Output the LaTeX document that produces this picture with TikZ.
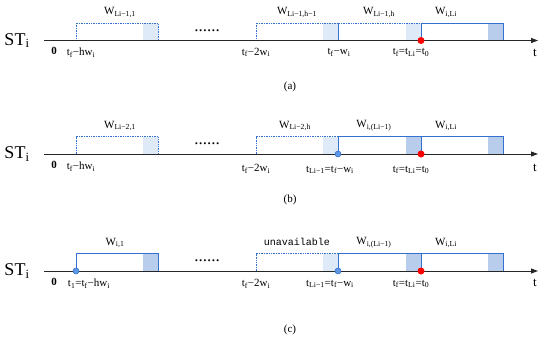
\documentclass[tikz,border=0pt]{standalone}
\usepackage{fontspec}
\setmainfont{Liberation Serif}
\setmonofont{Liberation Mono}
\usepackage{xcolor}
\usepackage{tikz}
\usetikzlibrary{arrows.meta, positioning}

\definecolor{winblue}{RGB}{52,112,208}
\definecolor{shadelight}{RGB}{222,234,248}
\definecolor{shadedark}{RGB}{184,204,236}
\definecolor{dotblue}{RGB}{92,150,228}

\tikzset{
  oldwin/.style={draw=winblue, densely dotted, line width=0.7pt},
  curwin/.style={draw=winblue, line width=0.9pt},
  oldtail/.style={fill=shadelight},
  curtail/.style={fill=shadedark},
  timeaxis/.style={-{Triangle[length=7pt,width=5pt]}, line width=0.9pt, black!85},
  ticklab/.style={font=\fontsize{11}{12}\selectfont, inner sep=0pt},
  winlab/.style={font=\fontsize{11}{12}\selectfont, inner sep=0pt},
  stlab/.style={font=\fontsize{18}{20}\selectfont, inner sep=0pt},
  caplab/.style={font=\fontsize{11}{12}\selectfont, inner sep=0pt},
  startdot/.style={circle, fill=dotblue, draw=winblue, line width=0.5pt, inner sep=0pt, minimum size=6pt},
  nowdot/.style={circle, fill=red, inner sep=0pt, minimum size=7pt},
}

\begin{document}
\begin{tikzpicture}[x=1pt, y=-1pt]
  \useasboundingbox (0,0) rectangle (550,343);

  % ---- Panel (a): all earlier windows finished ----
  \begin{scope}[shift={(0,40.5)}]
    \foreach \a/\b in {76/158, 256/338, 338/421}
      \fill[oldtail] (\b-15,0) rectangle (\b,-17.5);
    \foreach \a/\b in {76/158, 256/338, 338/421}
      \draw[oldwin] (\a,0) rectangle (\b,-17.5);
    \fill[curtail] (488,0) rectangle (503,-17.5);
    \draw[curwin] (421,0) rectangle (503,-17.5);
    \coordinate (a-start) at (44,0);
    \coordinate (a-end) at (538,0);
    \draw[timeaxis] (a-start) -- (a-end);
    \node[nowdot] (a-now) at (421,0) {};
    % labels
    \node[stlab] (a-st) at (17,0) {ST\textsubscript{i}};
    \node[ticklab, font=\bfseries\fontsize{11}{12}\selectfont] (a-zero) at (54,10) {0};
    \node[ticklab] (a-hw) at (81,12) {t\textsubscript{f}−hw\textsubscript{i}};
    \node[ticklab] (a-2w) at (256,12) {t\textsubscript{f}−2w\textsubscript{i}};
    \node[ticklab] (a-w) at (339,12) {t\textsubscript{f}−w\textsubscript{i}};
    \node[ticklab] (a-t0) at (411,12) {t\textsubscript{f}=t\textsubscript{Li}=t\textsubscript{0}};
    \node[ticklab, font=\fontsize{13}{14}\selectfont] (a-t) at (535,12) {t};
    \node[inner sep=0pt, font=\fontsize{17}{18}\selectfont] (a-dots) at (207,-10) {......};
    \node[winlab] (a-w1) at (120,-28) {W\textsubscript{Li−1,1}};
    \node[winlab] (a-wh1) at (297,-28) {W\textsubscript{Li−1,h−1}};
    \node[winlab] (a-wh) at (379,-28) {W\textsubscript{Li−1,h}};
    \node[winlab] (a-wl) at (446,-28) {W\textsubscript{i,Li}};
    \node[caplab] (a-cap) at (290,46.5) {(a)};
  \end{scope}

  % ---- Panel (b): window Li-1 already open ----
  \begin{scope}[shift={(0,154)}]
    \foreach \a/\b in {76/158, 256/338}
      \fill[oldtail] (\b-15,0) rectangle (\b,-17.5);
    \foreach \a/\b in {76/158, 256/338}
      \draw[oldwin] (\a,0) rectangle (\b,-17.5);
    \foreach \a/\b in {338/421, 421/503}
      \fill[curtail] (\b-15,0) rectangle (\b,-17.5);
    \foreach \a/\b in {338/421, 421/503}
      \draw[curwin] (\a,0) rectangle (\b,-17.5);
    \coordinate (b-start) at (44,0);
    \coordinate (b-end) at (538,0);
    \draw[timeaxis] (b-start) -- (b-end);
    \node[startdot] (b-prev) at (338,0) {};
    \node[nowdot] (b-now) at (421,0) {};
    % labels
    \node[stlab] (b-st) at (17,0) {ST\textsubscript{i}};
    \node[ticklab, font=\bfseries\fontsize{11}{12}\selectfont] (b-zero) at (54,11) {0};
    \node[ticklab] (b-hw) at (81,13) {t\textsubscript{f}−hw\textsubscript{i}};
    \node[ticklab] (b-2w) at (256,15) {t\textsubscript{f}−2w\textsubscript{i}};
    \node[ticklab] (b-w) at (330,16) {t\textsubscript{Li−1}=t\textsubscript{f}−w\textsubscript{i}};
    \node[ticklab] (b-t0) at (411,16) {t\textsubscript{f}=t\textsubscript{Li}=t\textsubscript{0}};
    \node[ticklab, font=\fontsize{13}{14}\selectfont] (b-t) at (535,14) {t};
    \node[inner sep=0pt, font=\fontsize{17}{18}\selectfont] (b-dots) at (207,-10) {......};
    \node[winlab] (b-w1) at (120,-28) {W\textsubscript{Li−2,1}};
    \node[winlab] (b-wh) at (295,-28) {W\textsubscript{Li−2,h}};
    \node[winlab] (b-wl1) at (374,-28) {W\textsubscript{i,(Li−1)}};
    \node[winlab] (b-wl) at (446,-28) {W\textsubscript{i,Li}};
    \node[caplab] (b-cap) at (290,46) {(b)};
  \end{scope}

  % ---- Panel (c): first window back at t_1 ----
  \begin{scope}[shift={(0,271)}]
    \fill[oldtail] (323,0) rectangle (338,-17.5);
    \draw[oldwin] (256,0) rectangle (338,-17.5);
    \foreach \a/\b in {76/158, 338/421, 421/503}
      \fill[curtail] (\b-15,0) rectangle (\b,-17.5);
    \foreach \a/\b in {76/158, 338/421, 421/503}
      \draw[curwin] (\a,0) rectangle (\b,-17.5);
    \coordinate (c-start) at (44,0);
    \coordinate (c-end) at (538,0);
    \draw[timeaxis] (c-start) -- (c-end);
    \node[startdot] (c-first) at (76,0) {};
    \node[startdot] (c-prev) at (338,0) {};
    \node[nowdot] (c-now) at (421,0) {};
    % labels
    \node[stlab] (c-st) at (17,0) {ST\textsubscript{i}};
    \node[ticklab, font=\bfseries\fontsize{11}{12}\selectfont] (c-zero) at (54,11) {0};
    \node[ticklab] (c-hw) at (89,13) {t\textsubscript{1}=t\textsubscript{f}−hw\textsubscript{i}};
    \node[ticklab] (c-2w) at (256,13) {t\textsubscript{f}−2w\textsubscript{i}};
    \node[ticklab] (c-w) at (330,13) {t\textsubscript{Li−1}=t\textsubscript{f}−w\textsubscript{i}};
    \node[ticklab] (c-t0) at (411,13) {t\textsubscript{f}=t\textsubscript{Li}=t\textsubscript{0}};
    \node[ticklab, font=\fontsize{13}{14}\selectfont] (c-t) at (535,12) {t};
    \node[inner sep=0pt, font=\fontsize{17}{18}\selectfont] (c-dots) at (207,-10) {......};
    \node[winlab] (c-w1) at (115,-28) {W\textsubscript{i,1}};
    \node[winlab, font=\ttfamily\fontsize{10}{12}\selectfont] (c-na) at (297,-29) {unavailable};
    \node[winlab] (c-wl1) at (374,-28) {W\textsubscript{i,(Li−1)}};
    \node[winlab] (c-wl) at (446,-28) {W\textsubscript{i,Li}};
    \node[caplab] (c-cap) at (290,59) {(c)};
  \end{scope}
\end{tikzpicture}
\end{document}
